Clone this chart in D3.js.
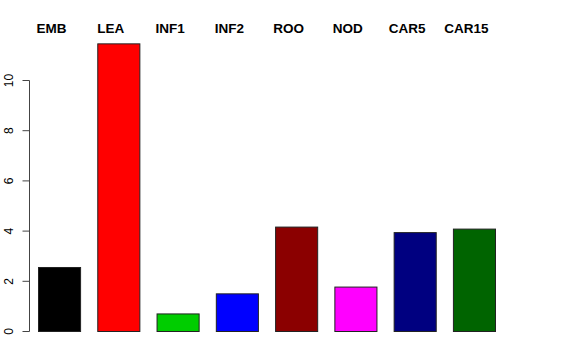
<!DOCTYPE html>
<html>
<head>
<meta charset="utf-8">
<script src="https://cdn.jsdelivr.net/npm/d3@7"></script>
<style>
  body { margin: 0; background: #fff; }
  svg { display: block; font-family: "Liberation Sans", Arial, sans-serif; }
</style>
</head>
<body>
<div id="chart"></div>
<script>
const categories = ["EMB", "LEA", "INF1", "INF2", "ROO", "NOD", "CAR5", "CAR15"];
const values = [2.55, 11.46, 0.7, 1.5, 4.16, 1.77, 3.94, 4.08];
const colors = ["#000000", "#ff0000", "#00cd00", "#0000ff", "#8b0000", "#ff00ff", "#000080", "#006400"];
const yTicks = [0, 2, 4, 6, 8, 10];

const width = 576, height = 360;
const svg = d3.select("#chart").append("svg")
  .attr("width", width)
  .attr("height", height);

const x = d3.scaleBand().domain(categories).range([38, 495]).paddingInner(0.29).paddingOuter(0);
const y = d3.scaleLinear().domain([0, 10]).range([331, 80]);

// bars
svg.selectAll(".bar")
  .data(categories.map((c, i) => ({ c, v: values[i], col: colors[i] })))
  .join("rect")
  .attr("class", "bar")
  .attr("x", (d) => x(d.c) + 0.5)
  .attr("y", (d) => y(d.v) + 0.5)
  .attr("width", x.bandwidth())
  .attr("height", (d) => y(0) - y(d.v))
  .attr("fill", (d) => d.col)
  .attr("stroke", "#222")
  .attr("stroke-width", 1);

// category labels along the top
svg.selectAll(".cat")
  .data(categories)
  .join("text")
  .attr("class", "cat")
  .attr("x", (d) => x(d) + 13.5)
  .attr("y", 33)
  .attr("text-anchor", "middle")
  .attr("font-size", "13.5px")
  .attr("font-weight", "bold")
  .text((d) => d);

// y axis
const axis = svg.append("g")
  .attr("transform", "translate(29.5,0)")
  .call(d3.axisLeft(y).tickValues(yTicks).tickSize(7).tickPadding(10));
axis.select(".domain").attr("stroke", "#444").attr("d", `M0,${y(0) + 0.5}V${y(10) + 0.5}`);
axis.selectAll(".tick line").attr("stroke", "#444");
axis.selectAll(".tick text")
  .attr("font-size", "12px")
  .attr("font-family", "Liberation Sans, Arial, sans-serif")
  .attr("fill", "#000")
  .attr("transform", "rotate(-90)")
  .attr("x", 0)
  .attr("y", -17)
  .attr("dy", "0")
  .attr("text-anchor", "middle");
</script>
</body>
</html>
